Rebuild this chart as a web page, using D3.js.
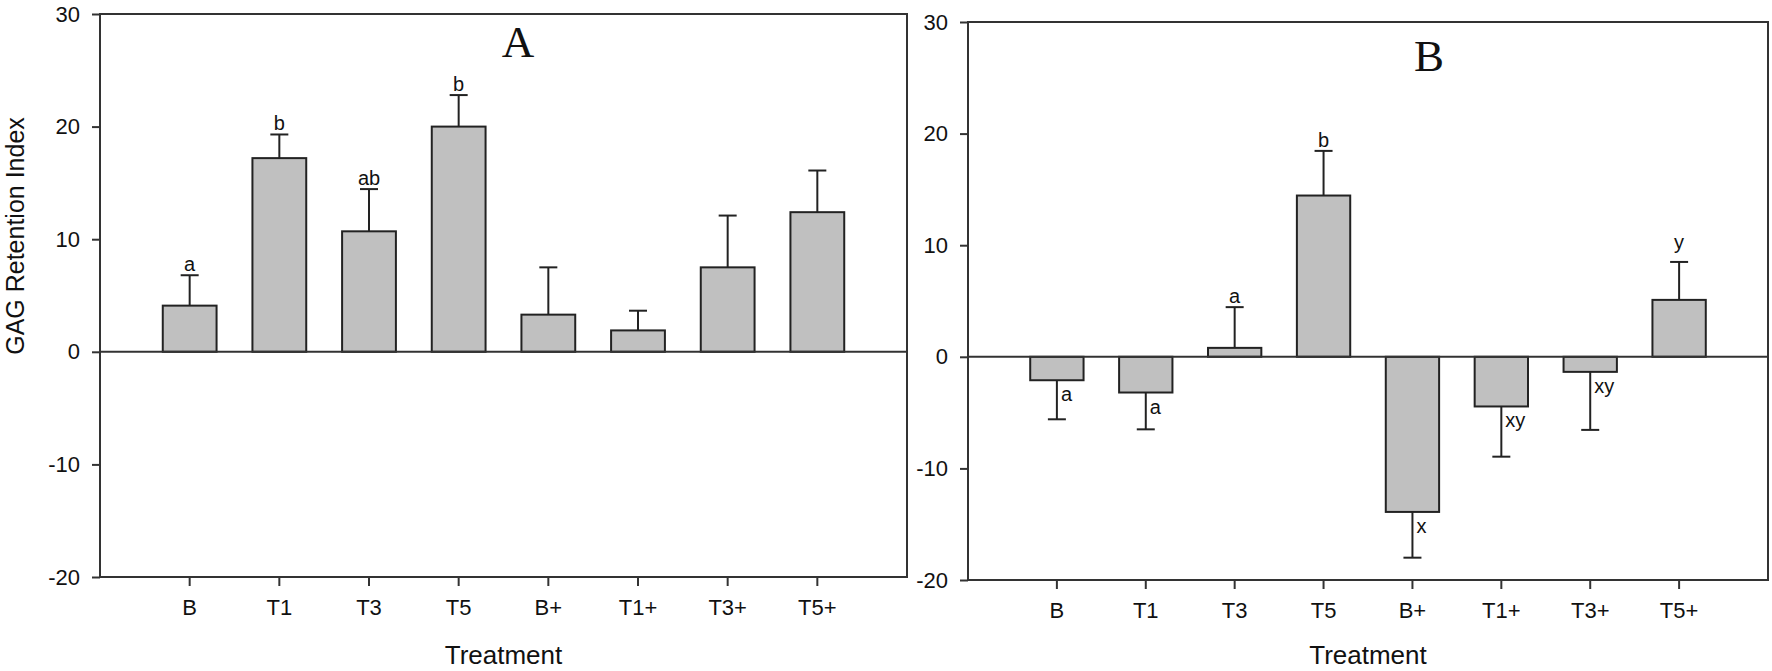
<!DOCTYPE html>
<html>
<head>
<meta charset="utf-8">
<script src="https://cdn.jsdelivr.net/npm/d3@7"></script>
<style>
  body { margin: 0; background: #fff; }
  svg text { font-family: "Liberation Sans", Arial, sans-serif; fill: #111; }
  .title { font-family: "Liberation Serif", "Times New Roman", serif; }
</style>
</head>
<body>
<svg id="chart" width="1772" height="671"></svg>
<script>
var treatments = ["B", "T1", "T3", "T5", "B+", "T1+", "T3+", "T5+"];
var yTicks = [-20, -10, 0, 10, 20, 30];

// panel A
var meansA = [4.1, 17.2, 10.7, 20.0, 3.3, 1.9, 7.5, 12.4];
var errA = [2.7, 2.1, 3.75, 2.8, 4.2, 1.75, 4.6, 3.7];
var lettersA = ["a", "b", "ab", "b", "", "", "", ""];

// panel B
var meansB = [-2.1, -3.2, 0.8, 14.45, -13.9, -4.45, -1.35, 5.1];
var errB = [3.5, 3.3, 3.65, 4.0, 4.1, 4.5, 5.2, 3.4];
var lettersB = ["a", "a", "a", "b", "x", "xy", "xy", "y"];

var svg = d3.select("#chart");
var ink = "#222";

function panel(opts) {
  var x = d3.scaleBand()
      .domain(treatments)
      .range([opts.left, opts.right])
      .paddingInner(0.4)
      .paddingOuter(0.7);
  var y = d3.scaleLinear()
      .domain([-20, 30])
      .range([opts.bottom, opts.top]);

  var g = svg.append("g");
  var rows = treatments.map(function (t, i) {
    return { t: t, v: opts.means[i], e: opts.errs[i], l: opts.letters[i] };
  });

  // bars
  g.selectAll("rect.bar")
      .data(rows)
      .enter()
      .append("rect")
      .attr("class", "bar")
      .attr("x", function (d) { return x(d.t); })
      .attr("width", x.bandwidth())
      .attr("y", function (d) { return y(Math.max(0, d.v)); })
      .attr("height", function (d) { return Math.abs(y(d.v) - y(0)); })
      .attr("fill", "#c0c0c0")
      .attr("stroke", ink)
      .attr("stroke-width", 2);

  // error bars, drawn away from zero
  var cx = function (d) { return x(d.t) + x.bandwidth() / 2; };
  var tip = function (d) { return y(d.v + (d.v < 0 ? -d.e : d.e)); };
  g.selectAll("line.err")
      .data(rows)
      .enter()
      .append("line")
      .attr("x1", cx).attr("x2", cx)
      .attr("y1", function (d) { return y(d.v); })
      .attr("y2", tip)
      .attr("stroke", ink)
      .attr("stroke-width", 2);
  g.selectAll("line.cap")
      .data(rows)
      .enter()
      .append("line")
      .attr("x1", function (d) { return cx(d) - 9; })
      .attr("x2", function (d) { return cx(d) + 9; })
      .attr("y1", tip).attr("y2", tip)
      .attr("stroke", ink)
      .attr("stroke-width", 2);

  // significance letters
  g.selectAll("text.sig")
      .data(rows.filter(function (d) { return d.l; }))
      .enter()
      .append("text")
      .attr("font-size", 20)
      .attr("text-anchor", function (d) { return d.v < 0 ? "start" : "middle"; })
      .attr("x", function (d) { return d.v < 0 ? cx(d) + 4 : cx(d); })
      .attr("y", function (d) {
        if (d.v < 0) return y(d.v) + 21;
        return tip(d) - (/[gjpqy]/.test(d.l) ? 13 : 4);
      })
      .text(function (d) { return d.l; });

  // frame
  g.append("rect")
      .attr("x", opts.left).attr("y", opts.top)
      .attr("width", opts.right - opts.left)
      .attr("height", opts.bottom - opts.top)
      .attr("fill", "none")
      .attr("stroke", "#333")
      .attr("stroke-width", 2);

  g.append("line")
      .attr("x1", opts.left).attr("x2", opts.right)
      .attr("y1", y(0)).attr("y2", y(0))
      .attr("stroke", "#333")
      .attr("stroke-width", 2);

  var ya = g.append("g")
      .attr("transform", "translate(" + opts.left + ",0)")
      .call(d3.axisLeft(y).tickValues(yTicks).tickSize(8).tickSizeOuter(0).tickPadding(12)
        .tickFormat(function (d) { return String(d); }));
  ya.select(".domain").remove();
  ya.selectAll("line").attr("stroke", "#333").attr("stroke-width", 2);
  ya.selectAll("text").attr("font-size", 22).attr("font-family", null).attr("fill", ink);

  var xa = g.append("g")
      .attr("transform", "translate(0," + opts.bottom + ")")
      .call(d3.axisBottom(x).tickSize(9).tickSizeOuter(0).tickPadding(13));
  xa.select(".domain").remove();
  xa.selectAll("line").attr("stroke", "#333").attr("stroke-width", 2);
  xa.selectAll("text").attr("font-size", 22).attr("font-family", null).attr("fill", ink);

  g.append("text")
      .attr("x", (opts.left + opts.right) / 2)
      .attr("y", 664)
      .attr("text-anchor", "middle")
      .attr("font-size", 26)
      .text("Treatment");

  g.append("text")
      .attr("class", "title")
      .attr("x", opts.titleX)
      .attr("y", opts.titleY)
      .attr("text-anchor", "middle")
      .attr("font-size", 45)
      .text(opts.title);

  return g;
}

panel({ left: 100, right: 907, top: 14, bottom: 577,
        means: meansA, errs: errA, letters: lettersA,
        title: "A", titleX: 518, titleY: 57 });
panel({ left: 968, right: 1768, top: 22, bottom: 580,
        means: meansB, errs: errB, letters: lettersB,
        title: "B", titleX: 1429, titleY: 71 });

svg.append("text")
    .attr("transform", "translate(24,236) rotate(-90)")
    .attr("text-anchor", "middle")
    .attr("font-size", 25)
    .text("GAG Retention Index");
</script>
</body>
</html>
